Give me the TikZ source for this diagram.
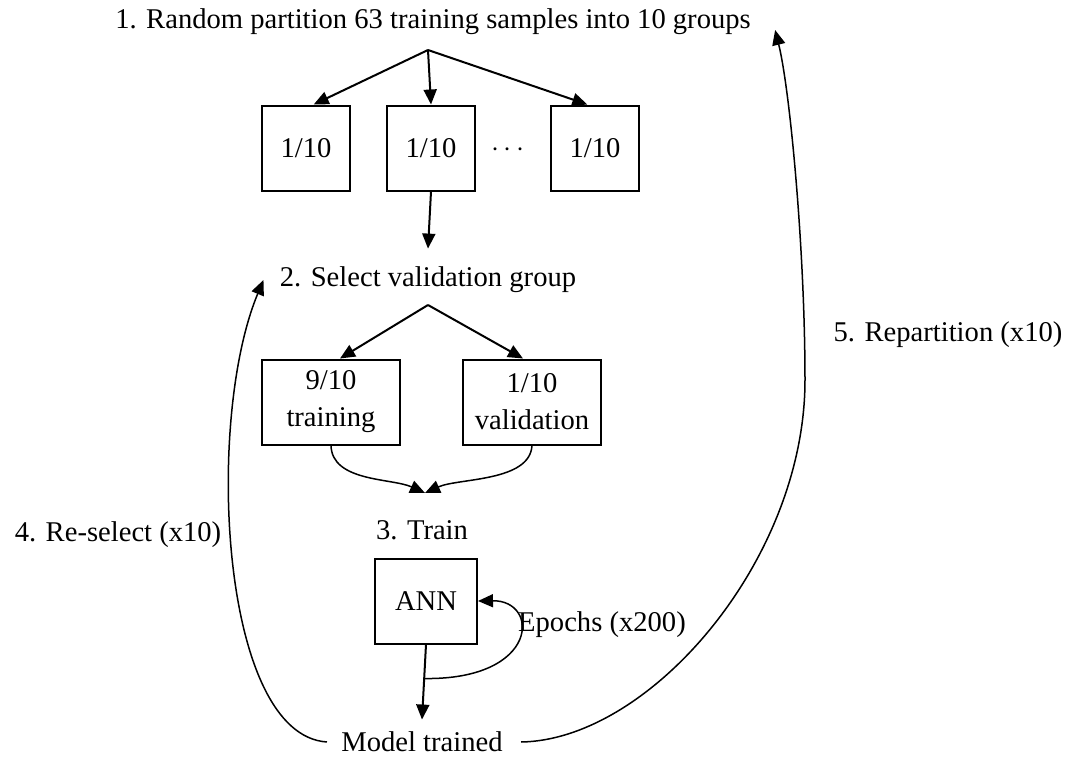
\documentclass[tikz,border=0pt]{standalone}
\usepackage{fontspec}
\setmainfont{Liberation Serif}
\usetikzlibrary{arrows.meta, positioning, calc}

\begin{document}
\begin{tikzpicture}[
    x=0.5pt, y=-0.5pt,
    every node/.style={font=\fontsize{14.3}{18.5}\selectfont},
    part/.style={
        rectangle,
        draw=black, line width=1pt,
        minimum width=44pt, minimum height=42.5pt,
        inner sep=2pt
    },
    wide/.style={
        part,
        minimum width=69pt,
        align=center
    },
    steptext/.style={
        inner sep=3pt
    },
    arrow/.style={
        -{Triangle[length=7.5pt,width=6.5pt]}, line width=1pt
    },
    back/.style={
        -{Triangle[length=7.5pt,width=6.5pt]}, line width=0.75pt
    }
]
\useasboundingbox (0,0) rectangle (1073,760);

% Step 1
\node[steptext] (title) at (433,22) {1. Random partition 63 training samples into 10 groups};
\coordinate (fork1) at (428,50);
\node[part] (g1) at (306,148) {1/10};
\node[part] (g2) at (431,148) {1/10};
\node (dots) at (508,150) {$\cdots$};
\node[part] (g3) at (595,148) {1/10};

% Step 2
\node[steptext] (select) at (428,280) {2. Select validation group};
\coordinate (fork2) at (428,305);
\node[wide] (train) at (331,402) {9/10\\training};
\node[wide] (valid) at (532,402) {1/10\\validation};
\coordinate (merge) at (425,493);

% Step 3
\node[steptext] (trainlbl) at (422,530) {3. Train};
\node[part, minimum width=51pt] (ann) at (426,601) {ANN};
\node[steptext] (model) at (422,742) {Model trained};
\coordinate (split) at ($(ann.south)!0.42!(model.north)$);

% Loop labels
\node[steptext] (epochs) at (602,625) {Epochs (x200)};
\node[steptext] (reselect) at (118,535) {4. Re-select (x10)};
\node[steptext] (repart) at (948,335) {5. Repartition (x10)};

% Arrows
\draw[arrow] (fork1) -- (g1.80);
\draw[arrow] (fork1) -- (g2.north);
\draw[arrow] (fork1) -- (g3.100);
\draw[arrow] (g2.south) -- ([yshift=6pt]select.north);
\draw[arrow] (fork2) -- ([xshift=4.5pt]train.north);
\draw[arrow] (fork2) -- ([xshift=-4.5pt]valid.north);
\draw[back] (train.south) .. controls (332,482) and (392,478) .. (merge);
\draw[back] (valid.south) .. controls (530,482) and (458,478) .. (merge);
\draw[arrow] (ann.south) -- ([yshift=3pt]model.north);

% Loops back
\draw[back] (split) .. controls (540,680) and (540,600) .. (ann.east);
\draw[back] ([xshift=-4pt]model.west) .. controls (220,735) and (205,420) .. ([xshift=-5pt]select.west);
\draw[back] ([xshift=6pt]model.east) .. controls (650,740) and (805,560) .. (805,380)
    .. controls (805,250) and (790,90) .. ([xshift=9pt,yshift=-4pt]title.east);

\end{tikzpicture}
\end{document}
